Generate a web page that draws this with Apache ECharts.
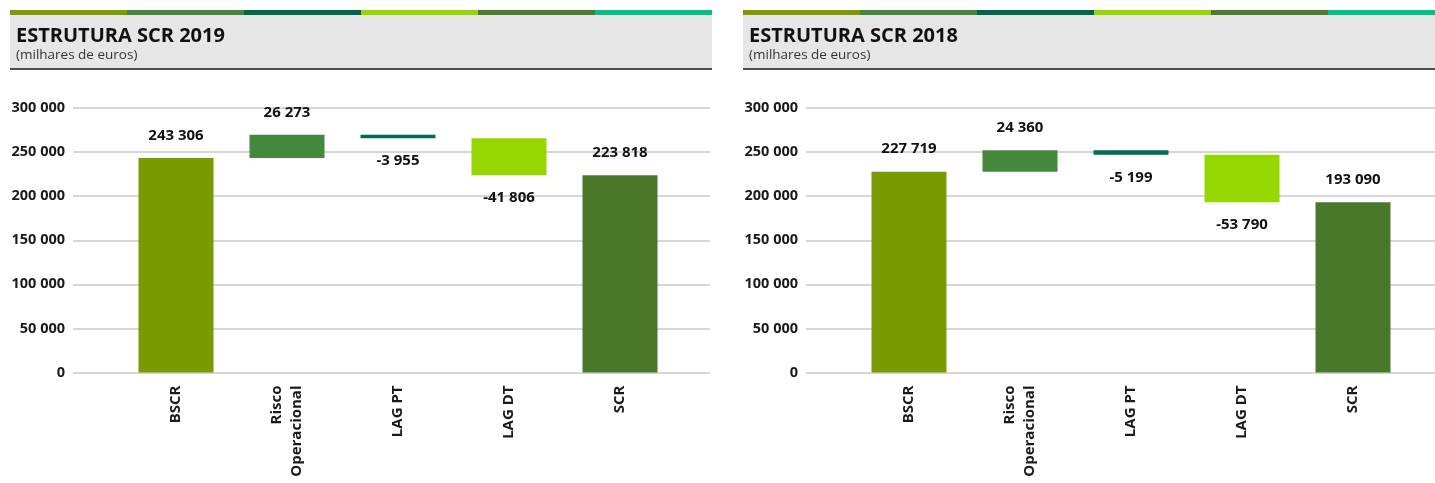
<!DOCTYPE html>
<html>
<head>
<meta charset="utf-8">
<script src="https://cdn.jsdelivr.net/npm/echarts@6/dist/echarts.min.js"></script>
<style>
  html, body { margin: 0; padding: 0; background: #fff; }
  #chart { width: 1435px; height: 483px; }
</style>
</head>
<body>
<div id="chart"></div>
<script>
  // dados (milhares de euros)
  const categories = ['BSCR', 'Risco\nOperacional', 'LAG PT', 'LAG DT', 'SCR'];
  const values2019 = [243306, 26273, -3955, -41806, 223818];
  const values2018 = [227719, 24360, -5199, -53790, 193090];
  const titles = ['ESTRUTURA SCR 2019', 'ESTRUTURA SCR 2018'];
  const subtitle = '(milhares de euros)';
  const yMin = 0;
  const yMax = 300000;
  const yStep = 50000;

  const barColors = ['#7a9a01', '#43883d', '#006a53', '#97d700', '#4a782b'];
  const stripeColors = ['#7f9a00', '#468540', '#00664b', '#97d700', '#4e7a30', '#00bf87'];
  const font = '"Open Sans", "Noto Sans", sans-serif';

  function fmt(v) {
    const s = String(Math.abs(v)).replace(/\B(?=(\d{3})+(?!\d))/g, ' ');
    return v < 0 ? '-' + s : s;
  }

  const panels = [
    { x: 0, title: titles[0], values: values2019 },
    { x: 733, title: titles[1], values: values2018 },
  ];

  const option = {
    animation: false,
    title: [],
    graphic: [],
    grid: [],
    xAxis: [],
    yAxis: [],
    series: [],
  };

  panels.forEach((p, i) => {
    const off = p.x;

    // cabeçalho
    option.graphic.push({
      type: 'rect', z: -1,
      shape: { x: off + 10, y: 15, width: 702, height: 54 },
      style: { fill: '#e6e6e6' },
    });
    option.graphic.push({
      type: 'rect', z: -1,
      shape: { x: off + 10, y: 68, width: 702, height: 2 },
      style: { fill: '#4d4d4d' },
    });
    stripeColors.forEach((c, k) => {
      option.graphic.push({
        type: 'rect', z: -1,
        shape: { x: off + 10 + k * 117, y: 10, width: 117, height: 5 },
        style: { fill: c },
      });
    });

    option.title.push({
      text: p.title,
      subtext: subtitle,
      left: off + 16,
      top: 26,
      itemGap: 2,
      padding: 0,
      textStyle: { fontFamily: font, fontSize: 20, fontWeight: 'bold', color: '#111' },
      subtextStyle: { fontFamily: font, fontSize: 13.5, color: '#333' },
    });

    // grelha de fundo (linhas a toda a largura)
    const gA = option.grid.length;
    option.grid.push({ left: off + 73, top: 108, width: 637, height: 264.5 });
    option.xAxis.push({ type: 'value', gridIndex: gA, show: false, min: 0, max: 1 });
    option.yAxis.push({
      type: 'value', gridIndex: gA, min: yMin, max: yMax, interval: yStep,
      axisLine: { show: false }, axisTick: { show: false },
      axisLabel: {
        margin: 8, fontFamily: font, fontSize: 14.5, fontWeight: 'bold', color: '#1a1a1a',
        formatter: fmt,
      },
      splitLine: { lineStyle: { color: '#c9c9c9', width: 1.5 } },
    });

    // barras
    const gB = option.grid.length;
    option.grid.push({ left: off + 120.5, top: 108, width: 555, height: 264.5 });
    option.xAxis.push({
      type: 'category', gridIndex: gB, data: categories,
      axisLine: { show: false }, axisTick: { show: false },
      axisLabel: {
        interval: 0, rotate: 90, margin: 13,
        fontFamily: font, fontSize: 15, fontWeight: 'bold', color: '#1a1a1a', lineHeight: 20,
      },
    });
    option.yAxis.push({ type: 'value', gridIndex: gB, min: yMin, max: yMax, show: false, splitLine: { show: false } });

    const last = p.values.length - 1;
    let running = 0;
    const base = [];
    const bars = [];
    p.values.forEach((v, k) => {
      if (k === 0 || k === last) {
        base.push(0);
        running = v;
        bars.push({ value: v, raw: v });
      } else {
        const next = running + v;
        base.push(Math.min(running, next));
        bars.push({ value: Math.abs(v), raw: v });
        running = next;
      }
    });

    option.series.push({
      type: 'bar', xAxisIndex: gB, yAxisIndex: gB, stack: 'w' + i,
      data: base, barWidth: 75, itemStyle: { color: 'transparent' },
      silent: true,
    });
    option.series.push({
      type: 'bar', xAxisIndex: gB, yAxisIndex: gB, stack: 'w' + i,
      barWidth: 75,
      data: bars.map((b, k) => ({
        value: b.value,
        itemStyle: { color: barColors[k] },
        label: {
          show: true,
          position: b.raw < 0 ? 'bottom' : 'top',
          distance: 15,
          formatter: fmt(b.raw),
          fontFamily: font, fontSize: 15, fontWeight: 'bold', color: '#111',
        },
      })),
    });
  });

  const chart = echarts.init(document.getElementById('chart'));
  chart.setOption(option);
</script>
</body>
</html>
